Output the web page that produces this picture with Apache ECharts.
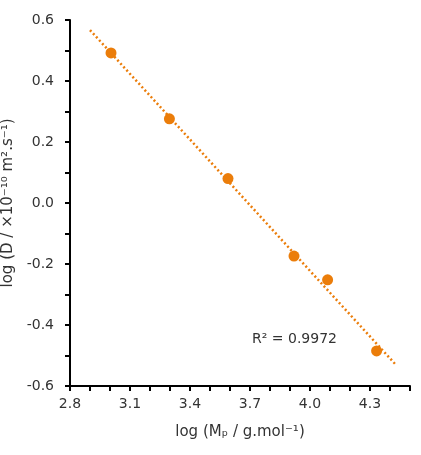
<!DOCTYPE html>
<html>
<head>
<meta charset="utf-8">
<script src="https://cdn.jsdelivr.net/npm/echarts@6/dist/echarts.min.js"></script>
<style>
    html, body { margin: 0; padding: 0; background: #fff; }
    #main { width: 421px; height: 455px; }
</style>
</head>
<body>
<div id="main"></div>
<script>
// 数据点 (log Mp, log D)
const logMp = [3.005, 3.297, 3.59, 3.92, 4.088, 4.333];
const logD = [0.492, 0.276, 0.080, -0.174, -0.252, -0.485];
// 趋势线两端
const trendX = [2.9, 4.43];
const trendY = [0.567, -0.531];
const r2Text = 'R² = 0.9972';

const orange = '#EB7D0A';
const font = '"DejaVu Sans", sans-serif';
const textColor = '#333';

const myChart = echarts.init(document.getElementById('main'));

const points = logMp.map(function (x, i) { return [x, logD[i]]; });
const trend = trendX.map(function (x, i) { return [x, trendY[i]]; });

option = {
    animation: false,
    grid: { left: 70, right: 11, top: 20, bottom: 69, containLabel: false, outerBoundsMode: 'none' },
    xAxis: {
        type: 'value',
        min: 2.8,
        max: 4.5,
        interval: 0.1,
        name: 'log (Mₚ / g.mol⁻¹)',
        nameLocation: 'middle',
        nameGap: 39,
        nameTextStyle: { color: textColor, fontSize: 15, fontFamily: font },
        axisLine: { onZero: false, lineStyle: { color: '#000', width: 2 } },
        axisTick: { show: true, length: 5, lineStyle: { color: '#000', width: 2 } },
        splitLine: { show: false },
        axisLabel: {
            color: textColor, fontSize: 14, fontFamily: font, margin: 11,
            formatter: function (v) {
                const k = Math.round((v - 2.8) * 10);
                return k % 3 === 0 ? v.toFixed(1) : '';
            }
        }
    },
    yAxis: {
        type: 'value',
        min: -0.6,
        max: 0.6,
        interval: 0.1,
        name: 'log (D / ×10⁻¹⁰ m².s⁻¹)',
        nameLocation: 'middle',
        nameGap: 48,
        nameRotate: 90,
        nameTextStyle: { color: textColor, fontSize: 15, fontFamily: font },
        axisLine: { onZero: false, lineStyle: { color: '#000', width: 2 } },
        axisTick: { show: true, length: 5, lineStyle: { color: '#000', width: 2 } },
        splitLine: { show: false },
        axisLabel: {
            color: textColor, fontSize: 14, fontFamily: font, margin: 16,
            formatter: function (v) {
                const k = Math.round(v * 10);
                return k % 2 === 0 ? v.toFixed(1) : '';
            }
        }
    },
    series: [
        {
            type: 'line',
            data: trend,
            symbol: 'none',
            lineStyle: { color: orange, width: 2.5, type: [2, 2.5] },
            z: 1
        },
        {
            type: 'scatter',
            data: points,
            symbolSize: 11,
            itemStyle: { color: orange, opacity: 1 },
            z: 2
        }
    ],
    graphic: [
        {
            type: 'text',
            left: 252,
            top: 332,
            style: { text: r2Text, fill: textColor, fontSize: 14, fontFamily: font }
        }
    ]
};

myChart.setOption(option);
</script>
</body>
</html>
